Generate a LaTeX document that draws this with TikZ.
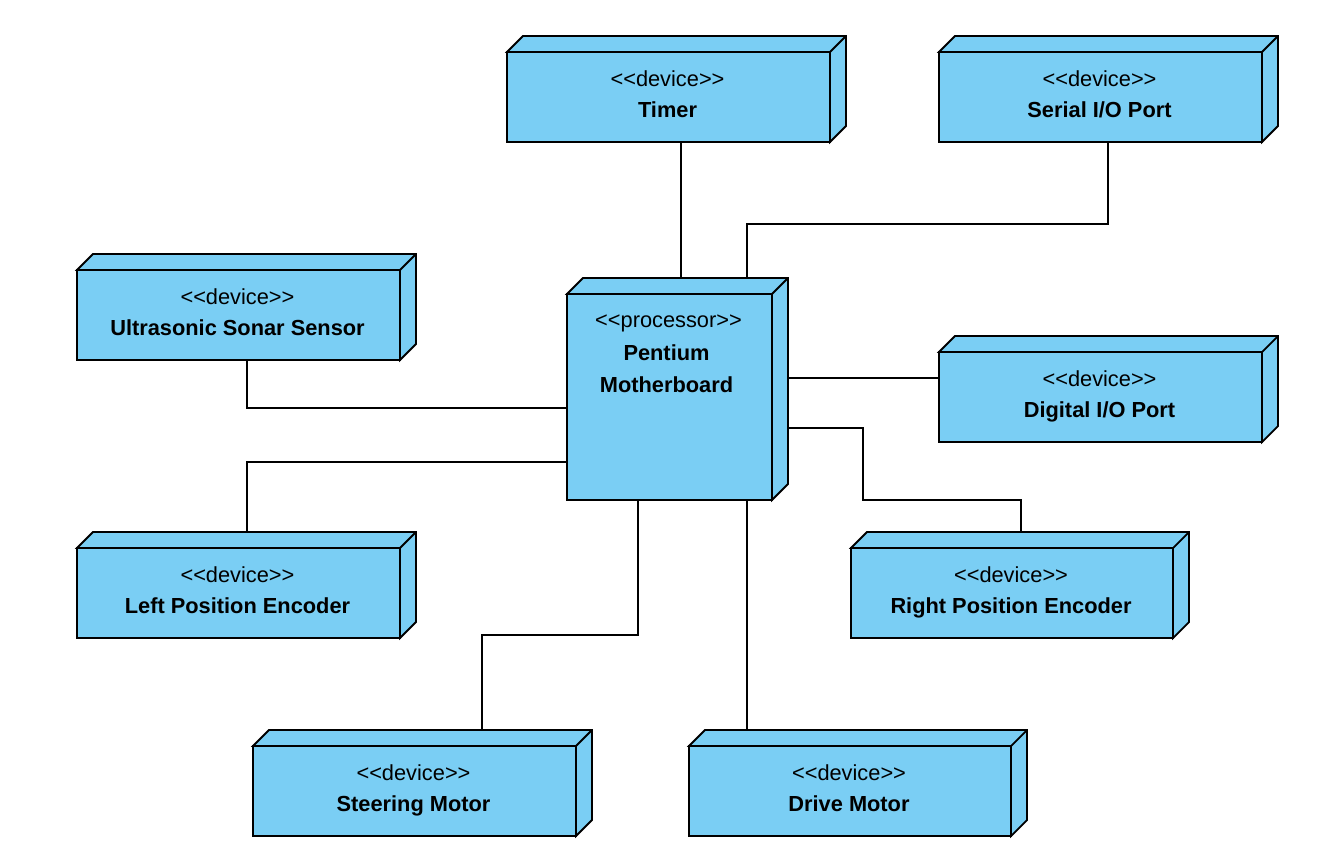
\documentclass[tikz,border=0pt]{standalone}
\usepackage{fontspec}
\setmainfont{Liberation Sans}
\usetikzlibrary{calc,backgrounds}
\definecolor{nodefill}{RGB}{122,206,244}
\tikzset{
  boxface/.style={draw=black, fill=nodefill, line width=1.8pt, line join=miter},
  boxedge/.style={draw=black, line width=1.8pt},
  devbox/.style={boxface, rectangle, inner sep=0pt, outer sep=0pt},
  stereo/.style={anchor=base, font=\fontsize{21.8}{24}\selectfont, inner sep=0pt},
  nodename/.style={anchor=base, font=\fontsize{21.8}{24}\selectfont\bfseries, inner sep=0pt},
  conn/.style={draw=black, line width=1.3pt},
}
\newcommand\depthbox[1]{%
  \draw[boxface] (#1.north west) -- ++(16,-16) -| ($(#1.south east)+(16,-16)$) -- (#1.south east) -- (#1.north east) -- cycle;
  \draw[boxedge] (#1.north east) -- ++(16,-16);
}
\newcommand\devnode[5]{%
  \node[devbox, minimum width=#4pt, minimum height=90pt] (#1) at (#2,#3) {};
  \depthbox{#1}
  \node[stereo] (#1-st) at ($(#1.north)+(-1,34)$) {<\kern0pt<device>\kern0pt>};
  \node[nodename] (#1-nm) at ($(#1.north)+(-1,65)$) {#5};
}
\begin{document}
\begin{tikzpicture}[x=1pt,y=-1pt]
\useasboundingbox (0,0) rectangle (1343,859);
\devnode{timer}{668.5}{97}{323}{Timer}
\devnode{serial}{1100.5}{97}{323}{Serial I/O Port}
\devnode{ultra}{238.5}{315}{323}{Ultrasonic Sonar Sensor}
\devnode{digital}{1100.5}{397}{323}{Digital I/O Port}
\devnode{left}{238.5}{593}{323}{Left Position Encoder}
\devnode{right}{1012}{593}{322}{Right Position Encoder}
\devnode{steer}{414.5}{791}{323}{Steering Motor}
\devnode{drive}{850}{791}{322}{Drive Motor}
\node[devbox, minimum width=205pt, minimum height=206pt] (proc) at (669.5,397) {};
\depthbox{proc}
\node[stereo] (proc-st) at ($(proc.north)+(-1,33)$) {<\kern0pt<processor>\kern0pt>};
\node[nodename] (proc-n1) at ($(proc.north)+(-3,66)$) {Pentium};
\node[nodename] (proc-n2) at ($(proc.north)+(-3,98)$) {Motherboard};
\coordinate (tx) at (681,0);
\coordinate (sx) at (747,224);
\coordinate (sx2) at (1108,224);
\coordinate (uy) at (247,408);
\coordinate (ly) at (247,462);
\coordinate (dy) at (800,378);
\coordinate (r1) at (863,428);
\coordinate (r2) at (863,500);
\coordinate (r3) at (1021,500);
\coordinate (s1) at (638,635);
\coordinate (s2) at (482,635);
\coordinate (dx) at (747,0);
\begin{scope}[on background layer]
  \draw[conn] (timer.south -| tx) -- (proc.north -| tx);
  \draw[conn] (proc.north -| sx) -- (sx) -- (sx2) -- (serial.south -| sx2);
  \draw[conn] (ultra.south -| uy) -- (uy) -- (proc.west |- uy);
  \draw[conn] (proc.west |- ly) -- (ly) -- (left.north -| ly);
  \draw[conn] (proc.east |- dy) -- (digital.west |- dy);
  \draw[conn] (proc.east |- r1) -- (r1) -- (r2) -- (r3) -- (right.north -| r3);
  \draw[conn] (proc.south -| s1) -- (s1) -- (s2) -- (steer.north -| s2);
  \draw[conn] (proc.south -| dx) -- (drive.north -| dx);
\end{scope}
\end{tikzpicture}
\end{document}
